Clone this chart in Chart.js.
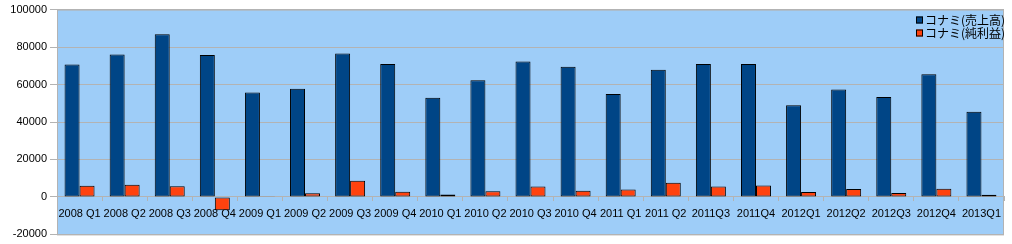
<!DOCTYPE html>
<html><head><meta charset="utf-8">
<script src="https://cdn.jsdelivr.net/npm/chart.js@4/dist/chart.umd.min.js"></script>
<style>html,body{margin:0;padding:0;background:#fff}</style>
</head><body>
<canvas id="c" width="1012" height="244"></canvas>
<script>
const categories = ['2008 Q1','2008 Q2','2008 Q3','2008 Q4','2009 Q1','2009 Q2','2009 Q3','2009 Q4','2010 Q1','2010 Q2','2010 Q3','2010 Q4','2011 Q1','2011 Q2','2011Q3','2011Q4','2012Q1','2012Q2','2012Q3','2012Q4','2013Q1'];
const salesLabel = 'コナミ(売上高)';
const profitLabel = 'コナミ(純利益)';
const sales = [70700, 76000, 86900, 75700, 55700, 57700, 76600, 71000, 52900, 62300, 72300, 69500, 54900, 67900, 71000, 70900, 48900, 57300, 53300, 65500, 45500];
const profit = [6000, 6500, 5700, -7100, 400, 1900, 8600, 2800, 1300, 3000, 5600, 3300, 4000, 7600, 5600, 6100, 2600, 4200, 2100, 4400, 1200];
const yMin = -20000, yMax = 100000, yStep = 20000;

const plotBg = {
  id: 'plotBg',
  beforeDraw(chart) {
    const {ctx, chartArea: a} = chart;
    ctx.save();
    ctx.fillStyle = '#9ecdf8';
    ctx.fillRect(a.left, a.top, a.right - a.left, a.bottom - a.top);
    ctx.strokeStyle = '#b3b3b3';
    ctx.lineWidth = 1;
    ctx.strokeRect(a.left + 0.5, a.top + 0.5, a.right - a.left - 1, a.bottom - a.top);
    ctx.restore();
  }
};
const inLegend = {
  id: 'inLegend',
  afterDraw(chart) {
    const {ctx} = chart;
    ctx.save();
    ctx.font = '12px "Noto Sans CJK JP", sans-serif';
    ctx.textBaseline = 'middle';
    ctx.textAlign = 'left';
    chart.data.datasets.forEach((ds, i) => {
      const y = 20 + i * 13;
      const x = 916;
      ctx.fillStyle = ds.backgroundColor;
      ctx.fillRect(x, y - 3.5, 7, 7);
      ctx.strokeStyle = '#000';
      ctx.lineWidth = 1;
      ctx.strokeRect(x + 0.5, y - 3, 6, 6);
      ctx.fillStyle = '#000';
      ctx.fillText(ds.label, x + 9, y);
    });
    ctx.restore();
  }
};

new Chart(document.getElementById('c'), {
  type: 'bar',
  data: {
    labels: categories,
    datasets: [
      {label: salesLabel, data: sales, backgroundColor: '#004586', borderColor: '#000', borderWidth: 1, borderSkipped: false},
      {label: profitLabel, data: profit, backgroundColor: '#ff420e', borderColor: '#000', borderWidth: 1, borderSkipped: false}
    ]
  },
  options: {
    responsive: false,
    animation: false,
    layout: {padding: {left: 0, top: 8, right: 8, bottom: 8}},
    datasets: {bar: {categoryPercentage: 0.665, barPercentage: 1}},
    plugins: {legend: {display: false}, tooltip: {enabled: false}},
    scales: {
      x: {
        position: {y: 0},
        grid: {offset: true, drawOnChartArea: false, tickLength: 4, color: '#b3b3b3'},
        border: {color: '#b3b3b3'},
        ticks: {autoSkip: false, maxRotation: 0, padding: 6, color: '#000', font: {family: '"Liberation Sans", Arial, sans-serif', size: 11}}
      },
      y: {
        min: yMin, max: yMax,
        afterFit(s) { s.width = 57; },
        grid: {color: '#b3b3b3', tickLength: 7},
        border: {color: '#b3b3b3'},
        ticks: {stepSize: yStep, padding: 3, color: '#000', font: {family: '"Liberation Sans", Arial, sans-serif', size: 11}, callback: v => String(v)}
      }
    }
  },
  plugins: [plotBg, inLegend]
});
</script>
</body></html>
